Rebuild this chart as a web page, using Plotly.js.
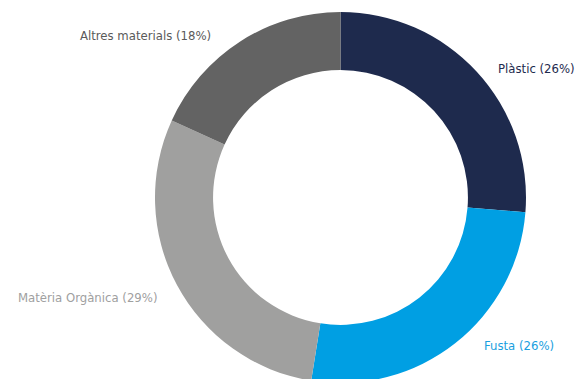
<!DOCTYPE html>
<html>
<head>
<meta charset="utf-8">
<script src="https://cdn.plot.ly/plotly-3.0.1.min.js"></script>
<style>
html,body{margin:0;padding:0;overflow:hidden;background:#fff;width:578px;height:379px;}
#chart{width:578px;height:400px;}
</style>
</head>
<body>
<div id="chart"></div>
<script>
const categories = ["Plàstic", "Fusta", "Matèria Orgànica", "Altres materials"];
const values = [26, 26, 29, 18];
const colors = ["#1e2a4d", "#009fe3", "#a0a09f", "#636363"];
const labelColors = ["#1e2a4d", "#1a9fe0", "#a0a09f", "#5a5a5a"];
// label anchor positions (pixels from top-left)
const labelPos = [[536, 68], [518.5, 345], [87, 297], [145.5, 35]];

const W = 578, H = 400;
const cx = 340.5, cy = 197.5, r = 185.5;

const trace = {
  type: "pie",
  labels: categories,
  values: values,
  sort: false,
  direction: "clockwise",
  rotation: 0,
  hole: 0.687,
  textinfo: "none",
  hoverinfo: "skip",
  marker: {colors: colors, line: {width: 0}},
  domain: {x: [(cx - r) / W, (cx + r) / W], y: [(H - cy - r) / H, (H - cy + r) / H]},
  showlegend: false
};

const annotations = categories.map((c, i) => ({
  text: c + " (" + values[i] + "%)",
  x: labelPos[i][0] / W,
  y: 1 - labelPos[i][1] / H,
  xref: "paper", yref: "paper",
  xanchor: "center", yanchor: "middle",
  showarrow: false,
  font: {family: "'DejaVu Sans Condensed', 'Open Sans', sans-serif", size: 13, color: labelColors[i]}
}));

Plotly.newPlot("chart", [trace], {
  width: W, height: H,
  margin: {l: 0, r: 0, t: 0, b: 0, pad: 0},
  paper_bgcolor: "#ffffff",
  plot_bgcolor: "#ffffff",
  annotations: annotations
}, {staticPlot: true, displayModeBar: false});
</script>
</body>
</html>
